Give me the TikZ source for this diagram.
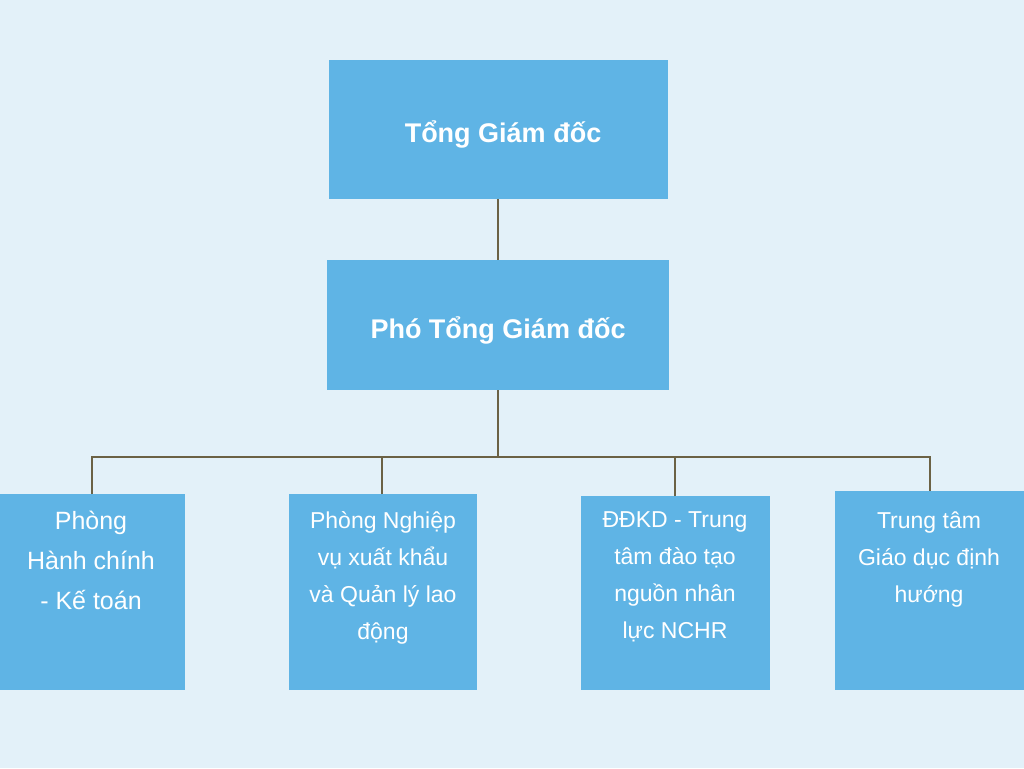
\documentclass[tikz,border=0pt]{standalone}
\usepackage{fontspec}
\setmainfont{Liberation Sans}
\begin{document}
\begin{tikzpicture}[x=1pt,y=-1pt,
  box/.style={fill=boxc,draw=none,inner sep=0pt,anchor=north west},
  txt/.style={text=white,align=center,font=\fontsize{23}{37}\selectfont,anchor=north},
  ttl/.style={text=white,font=\fontsize{27}{32}\selectfont\bfseries},
  con/.style={draw=linec,line width=2.5pt}]
\definecolor{bg}{HTML}{E3F1F9}
\definecolor{boxc}{HTML}{5FB4E5}
\definecolor{linec}{HTML}{6B6245}
\fill[bg] (0,0) rectangle (1024,768);
\useasboundingbox (0,0) rectangle (1024,768);
\node[box,minimum width=339pt,minimum height=139pt] (t) at (329,60) {};
\node[box,minimum width=342pt,minimum height=130pt] (v) at (327,260) {};
\node[box,minimum width=185pt,minimum height=196pt] (b1) at (0,494) {};
\node[box,minimum width=188pt,minimum height=196pt] (b2) at (289,494) {};
\node[box,minimum width=189pt,minimum height=194pt] (b3) at (581,496) {};
\node[box,minimum width=189pt,minimum height=199pt] (b4) at (835,491) {};
\node[ttl] (tt) at (503,134) {Tổng Giám đốc};
\node[ttl] (vt) at (498,330) {Phó Tổng Giám đốc};
\node[txt,font=\fontsize{25}{40}\selectfont] (x1) at (91,508) {Phòng\\Hành chính\\- Kế toán};
\node[txt] (x2) at (383,508) {Phòng Nghiệp\\vụ xuất khẩu\\và Quản lý lao\\động};
\node[txt] (x3) at (675,508) {ĐĐKD - Trung\\tâm đào tạo\\nguồn nhân\\lực NCHR};
\node[txt] (x4) at (929,508) {Trung tâm\\Giáo dục định\\hướng};
\coordinate (h) at (498,457);
\draw[con] (t.south -| h) -- (v.north -| h);
\draw[con] (v.south -| h) -- (h);
\draw[con] (b1.north -| 92,0) |- (h) -| (b4.north -| 930,0);
\draw[con] (b2.north -| 382,0) -- (382,457);
\draw[con] (b3.north -| 675,0) -- (675,457);
\end{tikzpicture}
\end{document}
